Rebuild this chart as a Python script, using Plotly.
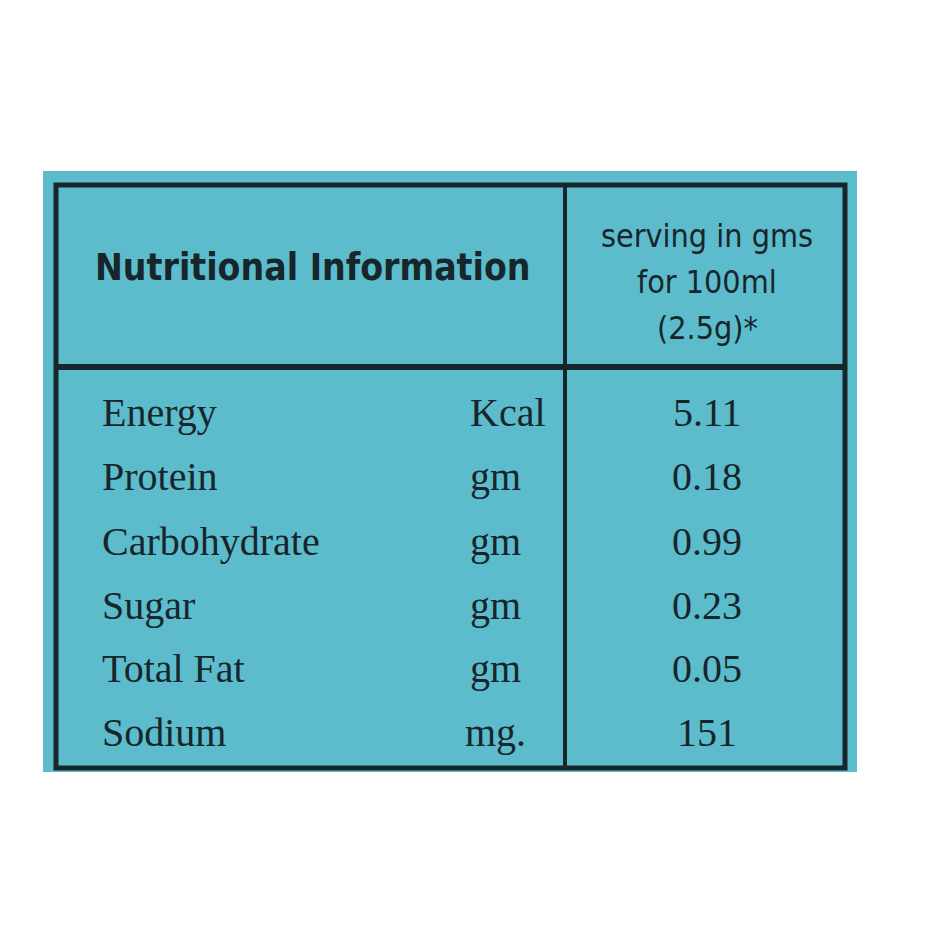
import plotly.graph_objects as go

title = "Nutritional Information"
serving_header = ["serving in gms", "for 100ml", "(2.5g)*"]
nutrients = ["Energy", "Protein", "Carbohydrate", "Sugar", "Total Fat", "Sodium"]
units = ["Kcal", "gm", "gm", "gm", "gm", "mg."]
values = ["5.11", "0.18", "0.99", "0.23", "0.05", "151"]

teal = "#5cbccb"
dark = "#17262b"
row_y = [412, 476, 541, 605, 668, 732]

fig = go.Figure()
fig.add_trace(go.Scatter(x=[8, 948], y=[8, 948], mode="markers", marker=dict(opacity=0), hoverinfo="skip"))

shapes = [
    dict(type="rect", x0=43, x1=857, y0=171, y1=772, fillcolor=teal, line=dict(width=0), layer="below"),
    dict(type="rect", x0=56, x1=845, y0=185, y1=768, line=dict(color=dark, width=5)),
    dict(type="line", x0=56, x1=845, y0=367, y1=367, line=dict(color=dark, width=6)),
    dict(type="line", x0=565, x1=565, y0=185, y1=768, line=dict(color=dark, width=4)),
]
ann = [dict(x=313, y=267, text="<b>" + title + "</b>", showarrow=False,
            font=dict(family="DejaVu Sans Condensed", size=37, color=dark))]
for i, t in enumerate(serving_header):
    ann.append(dict(x=707, y=236 + i * 46, text=t, showarrow=False,
                    font=dict(family="DejaVu Sans Condensed", size=32, color=dark)))
for n, u, v, y in zip(nutrients, units, values, row_y):
    ann.append(dict(x=100, y=y, text=n, xanchor="left", showarrow=False,
                    font=dict(family="Liberation Serif", size=40, color=dark)))
    ann.append(dict(x=548 if u == "Kcal" else 495, y=y, text=u,
                    xanchor="right" if u == "Kcal" else "center", showarrow=False,
                    font=dict(family="Liberation Serif", size=40, color=dark)))
    ann.append(dict(x=707, y=y, text=v, showarrow=False,
                    font=dict(family="Liberation Serif", size=40, color=dark)))

fig.update_layout(width=940, height=940, margin=dict(l=0, r=0, t=0, b=0),
                  paper_bgcolor="white", plot_bgcolor="white", showlegend=False,
                  shapes=shapes, annotations=ann,
                  xaxis=dict(range=[8, 948], visible=False, fixedrange=True),
                  yaxis=dict(range=[948, 8], visible=False, fixedrange=True))
fig.write_html("out.html")
